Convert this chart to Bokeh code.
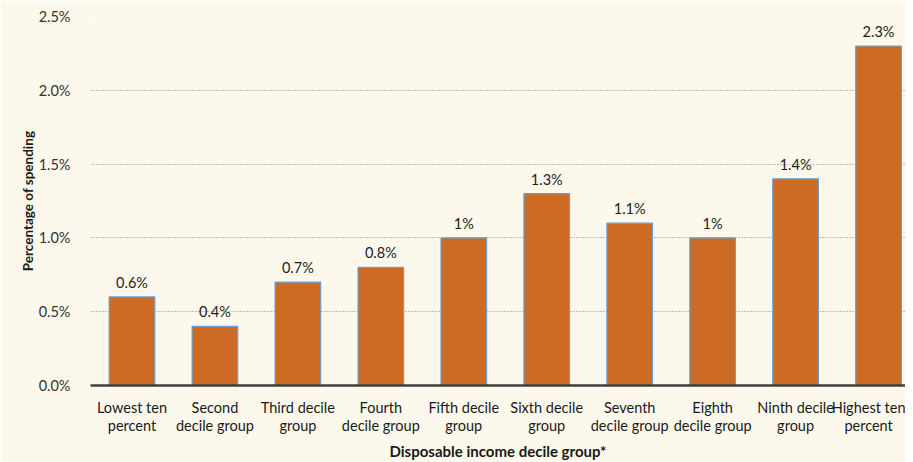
from bokeh.plotting import figure
from bokeh.models import ColumnDataSource, Range1d, FixedTicker
from bokeh.core.properties import value
from bokeh.embed import file_html
from bokeh.resources import INLINE

categories = ["Lowest ten\npercent", "Second\ndecile group", "Third decile\ngroup",
              "Fourth\ndecile group", "Fifth decile\ngroup", "Sixth decile\ngroup",
              "Seventh\ndecile group", "Eighth\ndecile group", "Ninth decile\ngroup",
              "Highest ten\npercent"]
values = [0.6, 0.4, 0.7, 0.8, 1.0, 1.3, 1.1, 1.0, 1.4, 2.3]
value_labels = ["0.6%", "0.4%", "0.7%", "0.8%", "1%", "1.3%", "1.1%", "1%", "1.4%", "2.3%"]
y_ticks = [0.0, 0.5, 1.0, 1.5, 2.0, 2.5]
y_tick_labels = ["0.0%", "0.5%", "1.0%", "1.5%", "2.0%", "2.5%"]

FONT = "Lato"
BG = "#FCF9EC"

xs = list(range(len(categories)))
src = ColumnDataSource(dict(x=xs, top=values, lab=value_labels))

p = figure(frame_width=815, frame_height=369, output_backend="svg", toolbar_location=None,
           x_range=Range1d(-0.5, 9.325), y_range=Range1d(0, 2.5),
           min_border_left=90, min_border_right=0, min_border_top=16, min_border_bottom=69)
p.background_fill_color = BG
p.border_fill_color = BG
p.outline_line_color = None

p.vbar(x="x", top="top", width=0.55, bottom=0, source=src,
       fill_color="#CD6A24", line_color="#6C9FCF", line_width=1.2)

p.text(x="x", y="top", text="lab", source=src, text_align="center",
       text_baseline="bottom", y_offset=-6, text_font=value(FONT),
       text_font_size="14.5px", text_color="#222222")

# x axis
p.xaxis.ticker = FixedTicker(ticks=xs)
p.xaxis.major_label_overrides = {i: c for i, c in enumerate(categories)}
p.xaxis.major_tick_line_color = None
p.xaxis.minor_tick_line_color = None
p.xaxis.axis_line_color = "#3F3F3F"
p.xaxis.axis_line_width = 2.5
p.xaxis.major_label_text_font = FONT
p.xaxis.major_label_text_font_size = "14.5px"
p.xaxis.major_label_text_color = "#1A1A1A"
p.xaxis.major_label_text_line_height = 1.1
p.xaxis.major_label_standoff = 7
p.xaxis.axis_label = "Disposable income decile group*"
p.xaxis.axis_label_text_font = FONT
p.xaxis.axis_label_text_font_style = "bold"
p.xaxis.axis_label_text_font_size = "15px"
p.xaxis.axis_label_text_color = "#1A1A1A"
p.xaxis.axis_label_standoff = 5
p.xgrid.grid_line_color = None

# y axis
p.yaxis.ticker = FixedTicker(ticks=y_ticks)
p.yaxis.major_label_overrides = {t: l for t, l in zip(y_ticks, y_tick_labels)}
p.yaxis.axis_line_color = None
p.yaxis.major_tick_line_color = None
p.yaxis.minor_tick_line_color = None
p.yaxis.major_label_text_font = FONT
p.yaxis.major_label_text_font_size = "14.5px"
p.yaxis.major_label_text_color = "#333333"
p.yaxis.major_label_standoff = 14
p.yaxis.axis_label = "Percentage of spending"
p.yaxis.axis_label_text_font = FONT
p.yaxis.axis_label_text_font_style = "bold"
p.yaxis.axis_label_text_font_size = "13.5px"
p.yaxis.axis_label_text_color = "#1A1A1A"
p.yaxis.axis_label_standoff = 0
p.ygrid.grid_line_color = "#808080"
p.ygrid.grid_line_dash = "1 2"
p.ygrid.grid_line_width = 1

open("out.html", "w").write(file_html(p, INLINE))
